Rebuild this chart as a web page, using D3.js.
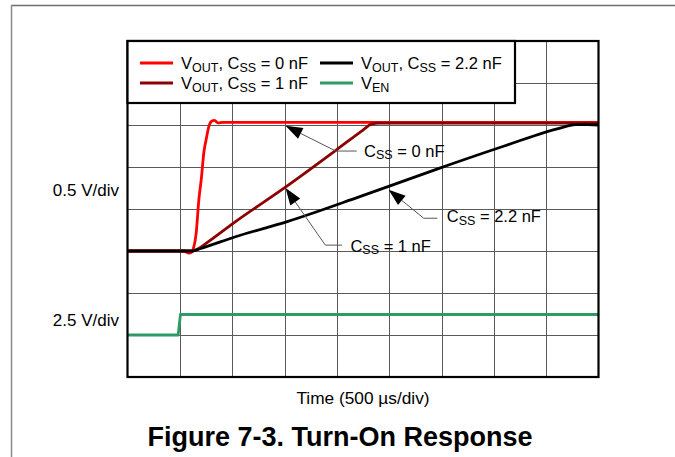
<!DOCTYPE html>
<html>
<head>
<meta charset="utf-8">
<script src="https://cdn.jsdelivr.net/npm/d3@7"></script>
<style>
  html, body { margin: 0; padding: 0; background: #fff; }
  svg { display: block; font-family: Arial, "Liberation Sans", sans-serif; }
</style>
</head>
<body>
<svg id="chart" width="675" height="457"></svg>
<script>
// Time axis: 500 µs per division, 9 divisions
const timeTicksUs = [0, 500, 1000, 1500, 2000, 2500, 3000, 3500, 4000, 4500];

// VOUT traces, [time µs, volts], 0.5 V/div
const voutCss0nF = [
  [0, 0], [540, 0], [585, -0.025], [612, -0.015], [630, 0.03], [656, 0.21], [681, 0.6],
  [707, 0.88], [729, 1.17], [752, 1.33], [777, 1.48], [803, 1.545], [831, 1.555],
  [867, 1.525], [908, 1.532], [4500, 1.532]
];
const voutCss1nF = [
  [0, 0], [620, 0], [680, 0.03], [750, 0.09], [1032, 0.35], [1509, 0.76], [2003, 1.21],
  [2250, 1.44], [2330, 1.51], [2400, 1.522], [4500, 1.522]
];
const voutCss2p2nF = [
  [0, 0], [620, 0], [700, 0.03], [1032, 0.17], [1526, 0.35], [2226, 0.65],
  [2990, 0.99], [3600, 1.25], [4150, 1.47], [4280, 1.505], [4400, 1.505], [4500, 1.5]
];
// VEN trace, [time µs, volts], 2.5 V/div
const ven = [[0, 0], [484, 0], [506, 1.22], [4500, 1.22]];

const legendLabels = [
  { sub: "OUT", css: "0 nF", color: "#ff0000" },
  { sub: "OUT", css: "2.2 nF", color: "#000000" },
  { sub: "OUT", css: "1 nF", color: "#8b0000" },
  { sub: "EN", css: null, color: "#2f9a66" }
];

// Callouts: arrow tip on a trace [µs, V], elbow and label anchor [µs, V]
const callouts = [
  { value: "0 nF",   tip: [1510, 1.49], elbow: [1990, 1.19], end: [2190, 1.19], label: [2260, 1.12] },
  { value: "1 nF",   tip: [1510, 0.75], elbow: [1890, 0.07], end: [2050, 0.07], label: [2130, -0.01] },
  { value: "2.2 nF", tip: [2495, 0.73], elbow: [2830, 0.39], end: [2960, 0.39], label: [3050, 0.34] }
];

const svg = d3.select("#chart");
const L = 127.5, R = 598.5, T = 41, B = 377;

const x = d3.scaleLinear().domain([0, 4500]).range([L, R]);
// 8 vertical divisions; VOUT zero on the 3rd line up, VEN zero on the 1st
const yOut = d3.scaleLinear().domain([-1.5, 2.5]).range([B, T]);
const yEn = d3.scaleLinear().domain([-2.5, 17.5]).range([B, T]);

// page frame
svg.append("line").attr("x1", 11).attr("x2", 675).attr("y1", 5.5).attr("y2", 5.5)
  .attr("stroke", "#6e6e6e").attr("stroke-width", 1.5);
svg.append("line").attr("x1", 11.5).attr("x2", 11.5).attr("y1", 5).attr("y2", 457)
  .attr("stroke", "#8a8a8a").attr("stroke-width", 1.5);

// grid
const grid = svg.append("g").attr("stroke", "#5a5a5a").attr("stroke-width", 1);
grid.selectAll("line.v").data(timeTicksUs.slice(1, -1)).join("line")
  .attr("x1", d => Math.round(x(d)) + 0.5).attr("x2", d => Math.round(x(d)) + 0.5)
  .attr("y1", T).attr("y2", B);
const divTicks = d3.range(-1, 2.5, 0.5).filter(v => v > -1.5 && v < 2.5);
grid.selectAll("line.h").data(divTicks).join("line")
  .attr("x1", L).attr("x2", R)
  .attr("y1", d => Math.round(yOut(d)) + 0.5).attr("y2", d => Math.round(yOut(d)) + 0.5);

// traces
const lineOut = d3.line().x(d => x(d[0])).y(d => yOut(d[1])).curve(d3.curveMonotoneX);
const lineEn = d3.line().x(d => x(d[0])).y(d => yEn(d[1])).curve(d3.curveLinear);
svg.append("clipPath").attr("id", "plotClip").append("rect")
  .attr("x", L).attr("y", T).attr("width", R - L).attr("height", B - T);
const traces = svg.append("g").attr("clip-path", "url(#plotClip)")
  .attr("fill", "none").attr("stroke-width", 2.8).attr("stroke-linejoin", "round");
traces.append("path").attr("d", lineEn(ven)).attr("stroke", "#2f9a66");
traces.append("path").attr("d", lineOut(voutCss0nF)).attr("stroke", "#ff0000");
traces.append("path").attr("d", lineOut(voutCss1nF)).attr("stroke", "#8b0000");
traces.append("path").attr("d", lineOut(voutCss2p2nF)).attr("stroke", "#000000");

// plot border
svg.append("rect").attr("x", L).attr("y", T).attr("width", R - L).attr("height", B - T)
  .attr("fill", "none").attr("stroke", "#000").attr("stroke-width", 2.2);

// legend
const lg = svg.append("g");
lg.append("rect").attr("x", L).attr("y", T).attr("width", 515 - L).attr("height", 103 - T)
  .attr("fill", "#fff").attr("stroke", "#000").attr("stroke-width", 2.2);
const colX = [140, 320], rowY = [63, 83];
legendLabels.forEach((d, i) => {
  const cx = colX[i % 2], cy = rowY[Math.floor(i / 2)];
  lg.append("line").attr("x1", cx).attr("x2", cx + 33).attr("y1", cy).attr("y2", cy)
    .attr("stroke", d.color).attr("stroke-width", 2.8);
  const t = lg.append("text").attr("x", cx + 41).attr("y", cy + 6)
    .attr("font-size", 16.5).attr("fill", "#000");
  t.append("tspan").text("V");
  t.append("tspan").attr("font-size", 12.5).attr("dy", 2.5).text(d.sub);
  if (d.css) {
    t.append("tspan").attr("dy", -2.5).text(", C");
    t.append("tspan").attr("font-size", 12.5).attr("dy", 2.5).text("SS");
    t.append("tspan").attr("dy", -2.5).text(" = " + d.css);
  }
});

// callouts
const cg = svg.append("g");
callouts.forEach(c => {
  const tip = [x(c.tip[0]), yOut(c.tip[1])];
  const elbow = [x(c.elbow[0]), yOut(c.elbow[1])];
  const end = [x(c.end[0]), yOut(c.end[1])];
  const ang = Math.atan2(elbow[1] - tip[1], elbow[0] - tip[0]);
  const len = 17, half = 6;
  const bx = tip[0] + len * Math.cos(ang), by = tip[1] + len * Math.sin(ang);
  const px = -Math.sin(ang) * half, py = Math.cos(ang) * half;
  cg.append("path")
    .attr("d", `M${bx},${by}L${elbow[0]},${elbow[1]}L${end[0]},${end[1]}`)
    .attr("fill", "none").attr("stroke", "#555").attr("stroke-width", 1);
  cg.append("path")
    .attr("d", `M${tip[0]},${tip[1]}L${bx + px},${by + py}L${bx - px},${by - py}Z`)
    .attr("fill", "#000");
  const t = cg.append("text").attr("x", x(c.label[0])).attr("y", yOut(c.label[1]))
    .attr("font-size", 16.5).attr("fill", "#000");
  t.append("tspan").text("C");
  t.append("tspan").attr("font-size", 12.5).attr("dy", 2.5).text("SS");
  t.append("tspan").attr("dy", -2.5).text(" = " + c.value);
});

// axis captions
svg.append("text").attr("x", 119).attr("y", 196).attr("text-anchor", "end")
  .attr("font-size", 17).text("0.5 V/div");
svg.append("text").attr("x", 119).attr("y", 326).attr("text-anchor", "end")
  .attr("font-size", 17).text("2.5 V/div");
svg.append("text").attr("x", 363).attr("y", 404).attr("text-anchor", "middle")
  .attr("font-size", 17.3).text("Time (500 µs/div)");

// figure caption
svg.append("text").attr("x", 340).attr("y", 446).attr("text-anchor", "middle")
  .attr("font-size", 27).attr("font-weight", "bold").text("Figure 7-3. Turn-On Response");
</script>
</body>
</html>
